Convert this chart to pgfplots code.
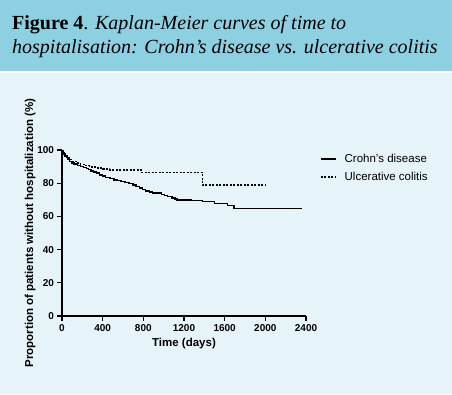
\documentclass[border=0pt]{standalone}
\usepackage{pgfplots}
\pgfplotsset{compat=1.18}
\usepackage{fontspec}
\setmainfont{Liberation Sans}
\newfontfamily\titlefont{Liberation Serif}
\definecolor{band}{HTML}{8DD0E2}
\definecolor{bg}{HTML}{E6F3F9}
\begin{document}
\begin{tikzpicture}[x=1pt,y=1pt]
\fill[bg] (0,0) rectangle (452,394);
\fill[band] (0,323) rectangle (452,394);
\fill[white] (0,321) rectangle (452,323);
\node[anchor=base west,inner sep=0pt,font=\titlefont\fontsize{20}{24}\selectfont] at (12,364) {\textbf{Figure 4}. \textit{Kaplan-Meier curves of time to}};
\node[anchor=base west,inner sep=0pt,font=\titlefont\fontsize{20}{24}\selectfont] at (12,340) {\textit{hospitalisation: Crohn’s disease vs. ulcerative colitis}};
\begin{axis}[
  at={(62pt,78pt)}, anchor=origin,
  scale only axis, width=244pt, height=166pt,
  xmin=0, xmax=2400, ymin=0, ymax=100,
  axis x line=bottom, axis y line=left,
  axis line style={-, line width=1.6pt},
  xtick={0,400,...,2400}, ytick={0,20,...,100},
  tick align=outside, major tick length=4.5pt,
  tick style={line width=1.3pt, black},
  /pgf/number format/assume math mode=true,
  /pgf/number format/1000 sep={},
  tick label style={font=\bfseries\fontsize{10}{11}\selectfont},
  xlabel={Time (days)}, ylabel={Proportion of patients without hospitalization (\%)},
  xlabel style={font=\bfseries\fontsize{11.5}{13}\selectfont, yshift=0pt},
  ylabel style={font=\bfseries\fontsize{11.5}{13}\selectfont, yshift=-5pt},
  legend style={at={(1.045,1)}, anchor=north west, draw=none, fill=none,
    font=\fontsize{11.5}{13}\selectfont, row sep=4pt,
    legend cell align=left, nodes={inner xsep=8pt}},
  legend image code/.code={\draw[#1] (0pt,0pt) -- (15pt,0pt);},
]
\addplot[const plot, black, line width=1.5pt] coordinates {
(0,100) (10,98.5) (20,97.5) (30,96.5) (45,95.5) (60,94.3) (75,93.2) (95,92.3)
(120,91.5) (150,90.8) (180,90.2) (210,89.5) (240,88.8) (260,88.2) (285,87.5)
(310,86.8) (340,86.0) (370,85.0) (400,84.2) (430,83.5) (470,82.7) (510,82.0)
(540,81.5) (580,81.0) (620,80.3) (660,79.7) (700,79.0) (730,78.0) (760,77.0)
(790,76.2) (820,75.4) (860,74.6) (890,74.0) (980,73.3) (1010,72.6) (1040,71.9)
(1080,71.2) (1110,70.5) (1130,69.9) (1270,69.5) (1380,68.9) (1500,67.9)
(1630,66.5) (1690,64.9) (2360,64.9)};
\addlegendentry{Crohn's disease}
\addplot[const plot, black, line width=1.3pt, dash pattern=on 2pt off 1.5pt] coordinates {
(0,100) (15,98) (30,96.5) (50,95.3) (70,94.3) (100,93.2) (140,92.2) (180,91.4)
(230,90.6) (270,89.8) (330,89.2) (400,88.6) (470,88.0) (780,86.5) (1380,78.9)
(2000,78.9)};
\addlegendentry{Ulcerative colitis}
\end{axis}
\end{tikzpicture}
\end{document}
